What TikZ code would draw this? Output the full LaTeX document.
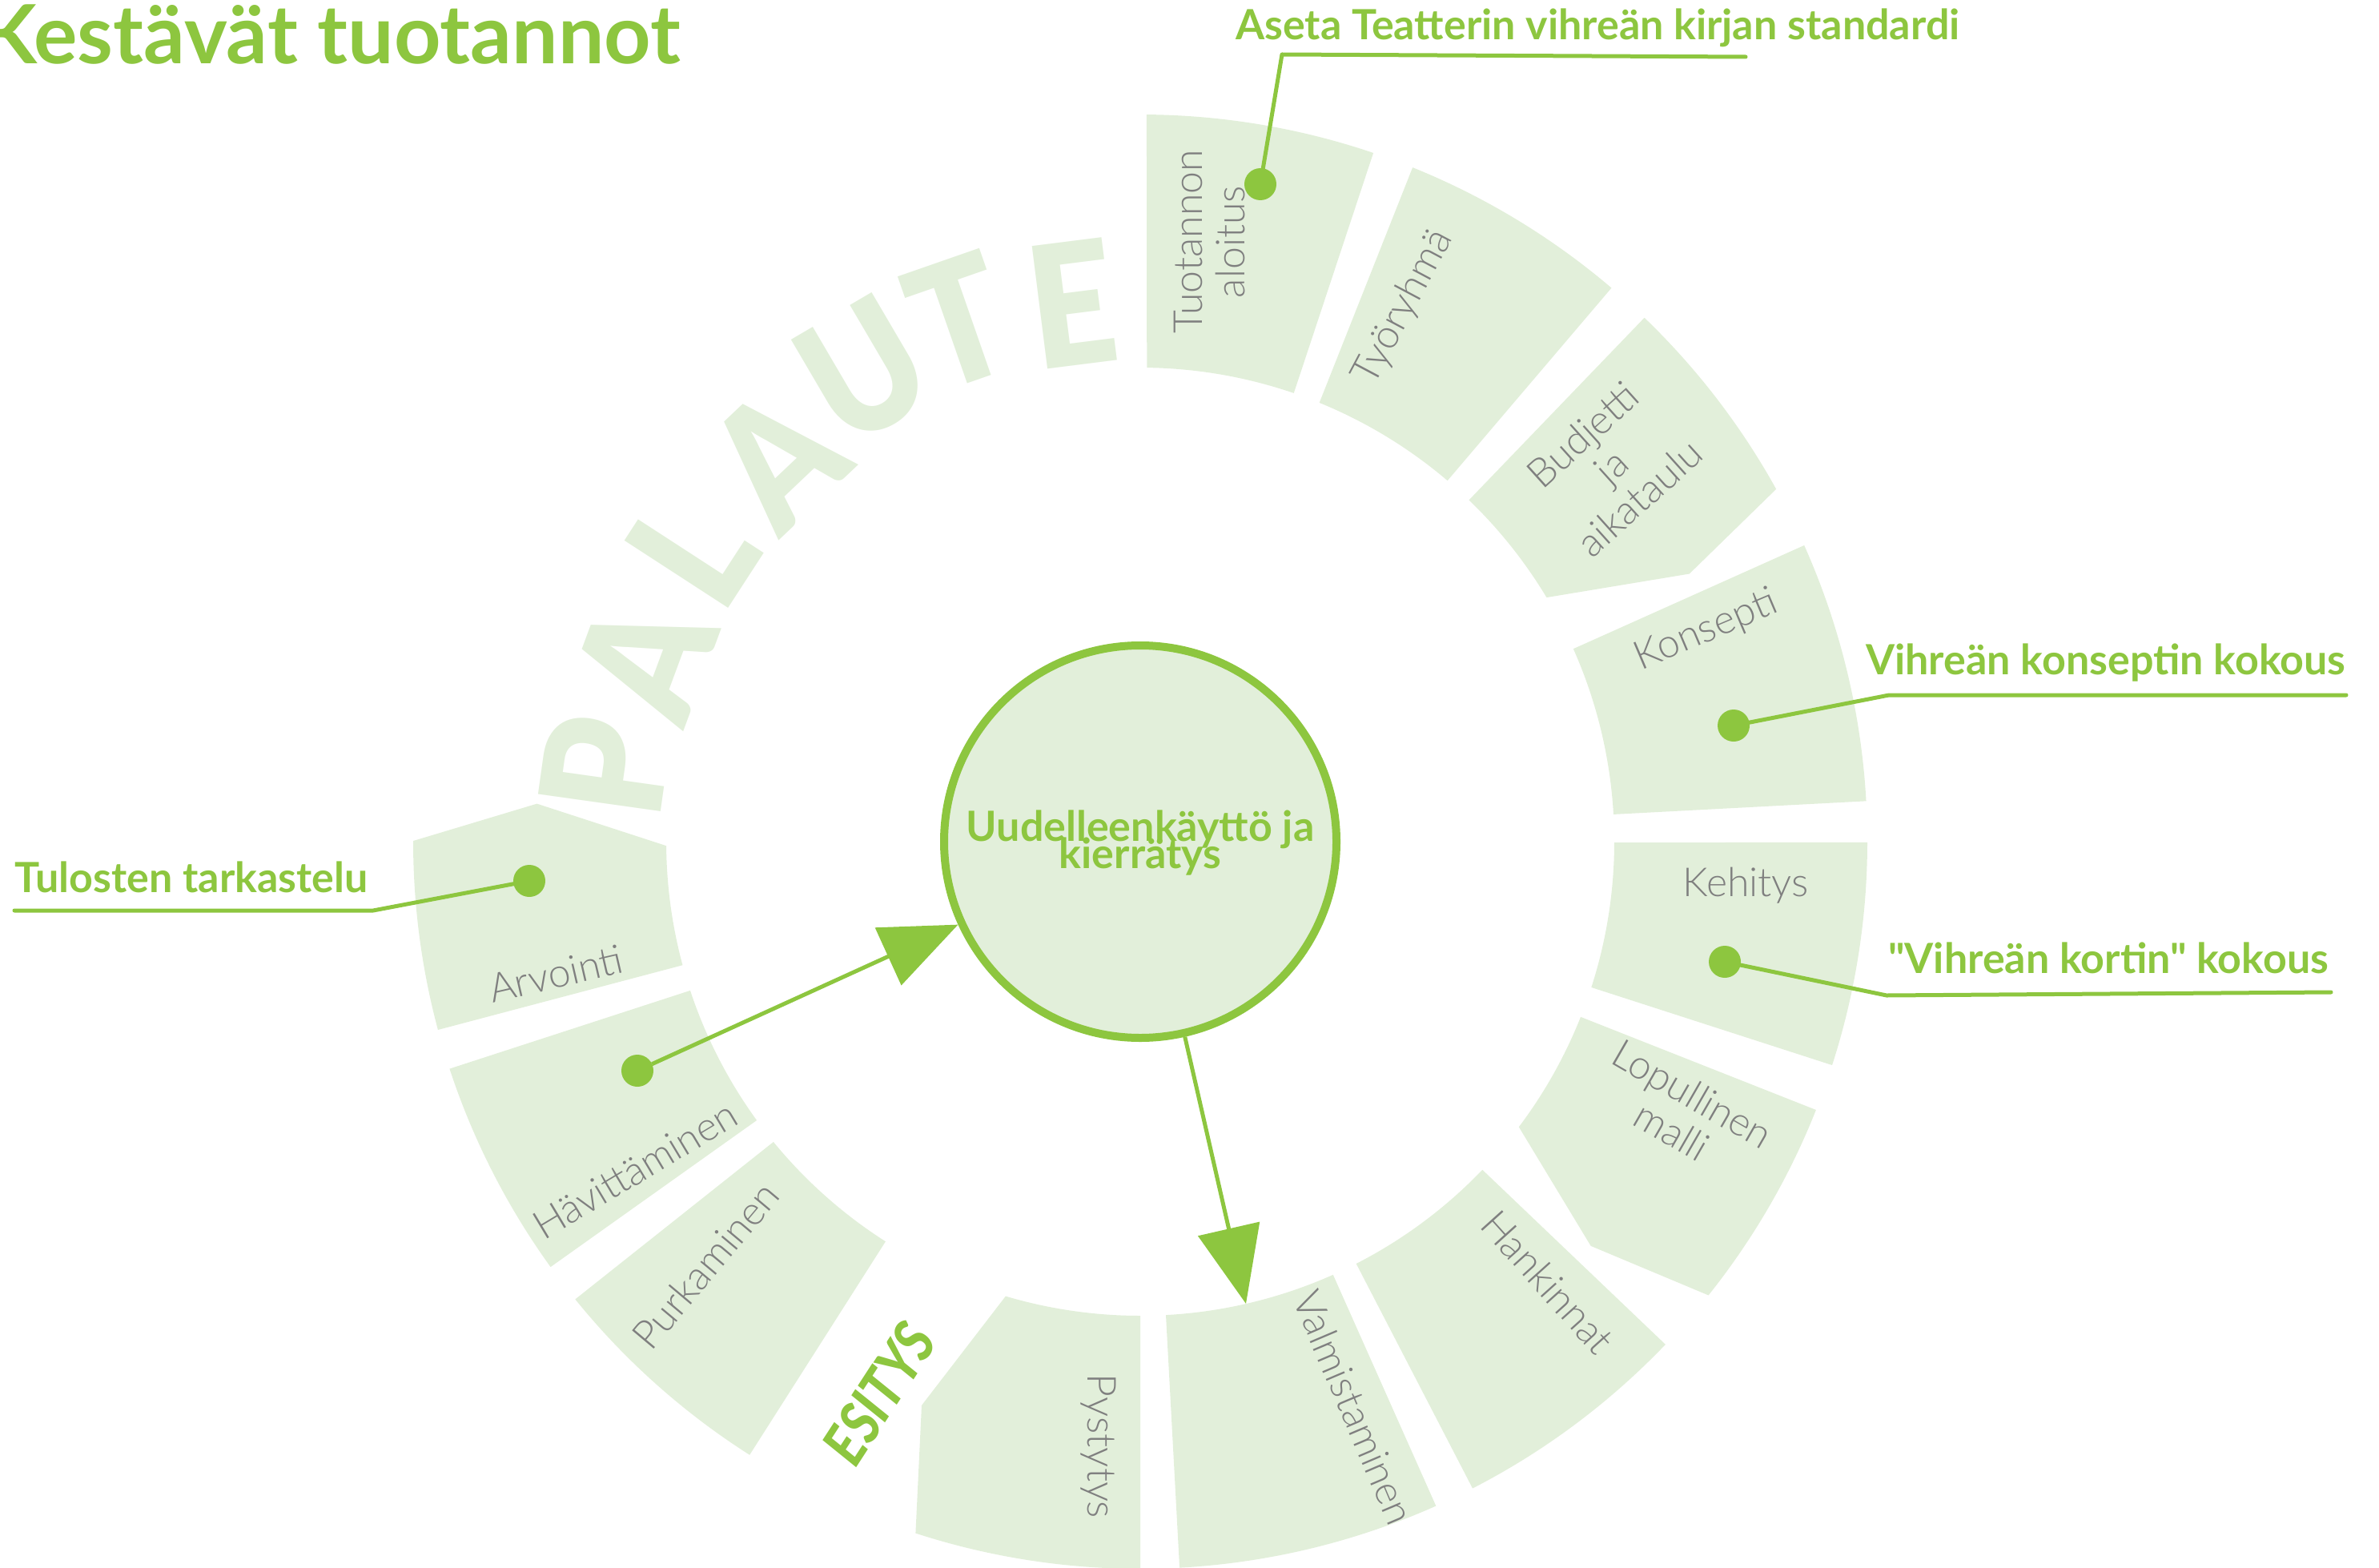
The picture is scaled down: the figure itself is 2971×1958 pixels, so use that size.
\documentclass[tikz,border=0pt]{standalone}
\usepackage{fontspec}
\setmainfont{Lato}
\IfFontExistsTF{Lato Light}{\newfontfamily\lightfont{Lato Light}}{\newfontfamily\lightfont{Lato}}
\IfFontExistsTF{Lato Black}{\newfontfamily\palfont{Lato Black}[FakeStretch=0.88]}{\newfontfamily\palfont{Lato}[FakeStretch=0.88,FakeBold=2]}
\IfFontExistsTF{Lato Black}{\newfontfamily\esifont{Lato Black}[FakeStretch=0.85]}{\newfontfamily\esifont{Lato}[FakeStretch=0.85]}
\usetikzlibrary{arrows.meta}
\definecolor{lgreen}{HTML}{E2EFDA}
\definecolor{dgreen}{HTML}{8DC63F}
\definecolor{labgray}{HTML}{7F7F7F}
\newcommand\tightlines{\lineskiplimit=-1000pt\relax\lineskip=0pt\relax}
\tikzset{
 seg/.style={fill=lgreen},
 seglabel/.style={text=labgray, font=\lightfont\fontsize{50}{53}\selectfont, align=center, inner sep=0pt},
 greenlabel/.style={text=dgreen, font=\bfseries\fontsize{52}{60}\selectfont, inner sep=0pt, anchor=base west},
 leader/.style={draw=dgreen, line width=5pt, line cap=round, line join=round},
 dotnode/.style={circle, fill=dgreen, minimum size=40pt, inner sep=0pt, outer sep=0pt},
 palletter/.style={text=lgreen, font=\palfont\fontsize{212}{212}\selectfont, inner sep=0pt},
 arrowline/.style={draw=dgreen, line width=5pt, -{Triangle[length=96pt,width=78pt]}},
}
\begin{document}
\begin{tikzpicture}[x=1pt,y=-1pt]
\useasboundingbox (0,0) rectangle (2971,1958);
\begin{scope}[shift={(1424,1051)}]
 % ring segments (image angles, clockwise)
 \fill[seg] (-89.5:908) arc[start angle=-89.5, end angle=-71.3, radius=908] -- (-71.1:592) arc[start angle=-71.1, end angle=-89.2, radius=592] -- cycle;
 \fill[seg] (-68.0:908) arc[start angle=-68.0, end angle=-49.6, radius=908] -- (-49.6:592) arc[start angle=-49.6, end angle=-67.8, radius=592] -- cycle;
 \fill[seg] (-46.1:908) arc[start angle=-46.1, end angle=-29.0, radius=908] -- (-26.0:763) -- (-31.0:592) arc[start angle=-31.0, end angle=-46.1, radius=592] -- cycle;
 \fill[seg] (-24.05:908) arc[start angle=-24.05, end angle=-3.2, radius=908] -- (-3.3:592) arc[start angle=-3.3, end angle=-24.0, radius=592] -- cycle;
 \fill[seg] (0.06:908) arc[start angle=0.06, end angle=17.9, radius=908] -- (17.9:592) arc[start angle=17.9, end angle=0.1, radius=592] -- cycle;
 \fill[seg] (21.65:908) arc[start angle=21.65, end angle=38.6, radius=908] -- (41.9:756) -- (37.0:592) arc[start angle=37.0, end angle=21.7, radius=592] -- cycle;
 \fill[seg] (43.75:908) arc[start angle=43.75, end angle=62.8, radius=908] -- (62.9:592) arc[start angle=62.9, end angle=43.8, radius=592] -- cycle;
 \fill[seg] (66.0:908) arc[start angle=66.0, end angle=86.9, radius=908] -- (86.9:592) arc[start angle=86.9, end angle=66.0, radius=592] -- cycle;
 \fill[seg] (90.0:908) arc[start angle=90.0, end angle=108.0, radius=908] -- (111.2:755) -- (106.5:592) arc[start angle=106.5, end angle=90.0, radius=592] -- cycle;
 \fill[seg] (122.5:908) arc[start angle=122.5, end angle=141.0, radius=908] -- (140.7:592) arc[start angle=140.7, end angle=122.5, radius=592] -- cycle;
 \fill[seg] (144.2:908) arc[start angle=144.2, end angle=161.8, radius=908] -- (161.7:592) arc[start angle=161.7, end angle=144.0, radius=592] -- cycle;
 \fill[seg] (165.0:908) arc[start angle=165.0, end angle=180.06, radius=908] -- (183.6:755) -- (179.5:592) arc[start angle=179.5, end angle=164.9, radius=592] -- cycle;
 % PALAUTE
 \node[palletter, rotate=82]   (pal1) at (188.0:675) {P};
 \node[palletter, rotate=69.7] (pal2) at (200.3:660) {A};
 \node[palletter, rotate=57]   (pal3) at (213.0:667) {L};
 \node[palletter, rotate=43.5] (pal4) at (226.5:660) {A};
 \node[palletter, rotate=30.4] (pal5) at (239.6:683) {U};
 \node[palletter, rotate=19.2] (pal6) at (250.8:688) {T};
 \node[palletter, rotate=7.2]  (pal7) at (262.8:677) {E};
\end{scope}
% segment labels
\node[seglabel, rotate=90]  (tuot) at (1510,302) {Tuotannon\\aloitus};
\node[seglabel, rotate=62]  (tyor) at (1753,384) {Työryhmä};
\node[seglabel, rotate=42]  (budj) at (2012,582) {Budjetti\\ja\\aikataulu};
\node[seglabel, rotate=23]  (kons) at (2131,788) {Konsepti};
\node[seglabel, anchor=base] (kehi) at (2180,1119) {Kehitys};
\node[seglabel, rotate=-30] (lopu) at (2101,1389) {Lopullinen\\malli};
\node[seglabel, rotate=-48] (hank) at (1933,1601) {Hankinnat};
\node[seglabel, rotate=-67] (valm) at (1691,1758) {Valmistaminen};
\node[seglabel, rotate=-90] (pyst) at (1372,1806) {Pystytys};
\node[seglabel, rotate=50]  (purk) at (881,1580) {Purkaminen};
\node[seglabel, rotate=31]  (havi) at (793,1461) {Hävittäminen};
\node[seglabel, rotate=13]  (arvi) at (694,1216) {Arvointi};
\node[text=dgreen, font=\esifont\itshape\fontsize{74}{74}\selectfont, inner sep=0pt, rotate=57] (esit) at (1098,1740) {ESITYS};
% hub
\node[circle, draw=dgreen, fill=lgreen, line width=10pt, minimum size=490pt, inner sep=0pt] (hub) at (1424,1051) {};
\node[text=dgreen, font=\bfseries\fontsize{52}{34}\selectfont\tightlines, align=center, inner sep=0pt, anchor=base] (hubtext) at (1424,1084) {Uudelleenkäyttö ja\\kierrätys};
% dots
\node[dotnode] (dtuot) at (1574,230) {};
\node[dotnode] (dkons) at (2165,906) {};
\node[dotnode] (dkehi) at (2154,1201) {};
\node[dotnode] (darvi) at (661,1100) {};
\node[dotnode] (dhavi) at (796,1337) {};
\coordinate (c1a) at (1601,68);  \coordinate (c1b) at (2180,71);
\coordinate (c2a) at (2359,868); \coordinate (c2b) at (2930,868);
\coordinate (c3a) at (2356,1243); \coordinate (c3b) at (2911,1239);
\coordinate (c4a) at (466,1137); \coordinate (c4b) at (18,1137);
\coordinate (valmtip) at (1556,1628);
\draw[leader] (dtuot.center) -- (c1a) -- (c1b);
\draw[leader] (dkons.center) -- (c2a) -- (c2b);
\draw[leader] (dkehi.center) -- (c3a) -- (c3b);
\draw[leader] (darvi.center) -- (c4a) -- (c4b);
\draw[arrowline] (dhavi) -- (hub);
\draw[arrowline] (hub) -- (valmtip);
% green labels
\node[greenlabel] (lab1) at (1543,50) {Aseta Teatterin vihreän kirjan standardi};
\node[greenlabel] (lab2) at (2330,842) {Vihreän konseptin kokous};
\node[greenlabel] (lab3) at (2358,1215) {\addfontfeatures{Ligatures=TeXOff}"Vihreän kortin" kokous};
\node[greenlabel] (lab4) at (18,1114) {Tulosten tarkastelu};
% title
\node[anchor=base west, text=dgreen, font=\bfseries\fontsize{102}{105}\selectfont, inner sep=0pt] (title) at (-24,80) {Kestävät tuotannot};
\end{tikzpicture}
\end{document}
